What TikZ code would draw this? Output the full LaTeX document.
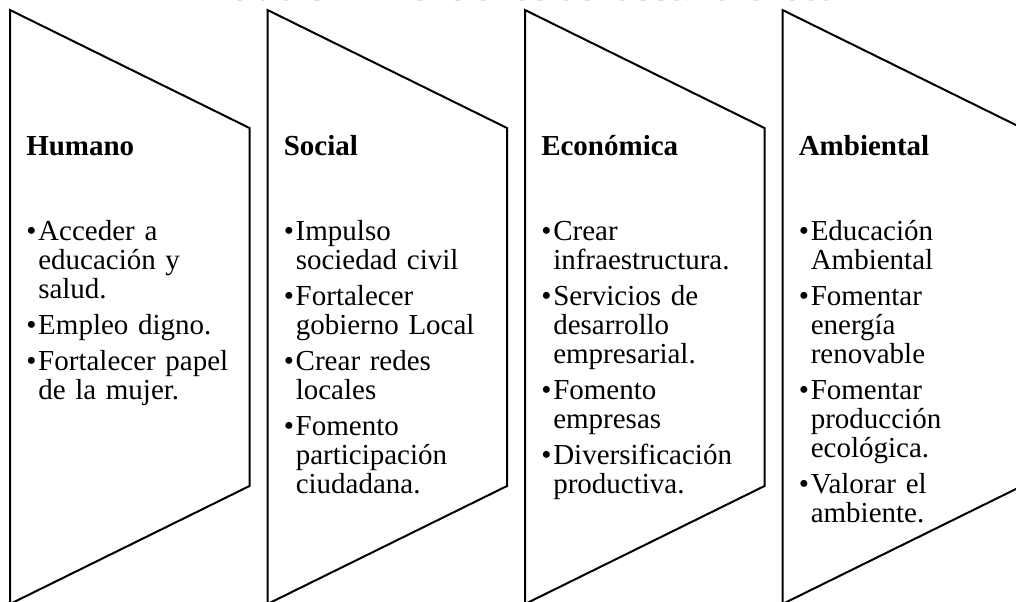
\documentclass[tikz,border=0pt]{standalone}
\usepackage{fontspec}
\setmainfont{Liberation Serif}
\newfontfamily\rotulofont{Liberation Sans}
\usepackage{tikz}
\usetikzlibrary{positioning}

\begin{document}
\begin{tikzpicture}[x=0.75pt,y=-0.75pt,
						every node/.style = {inner sep=0pt, font=\fontsize{21.75}{21.75}\selectfont},
						forma/.style = {line width=1.5pt, line join=miter},
						cabecera/.style = {anchor=base west, font=\fontsize{21.75}{21.75}\selectfont\bfseries},
						lista/.style = {anchor=base west, text width=168pt, align=left}]

					\def\ancho{239.5}
					\def\caida{118}
					\def\bala{\makebox[9pt][l]{•}}
					\def\sigue{\hspace*{9pt}}

					\useasboundingbox (0,0) rectangle (1016,601);
					\clip (0,0) rectangle (1016,601);

					% titulo recortado arriba
					\node[anchor=base, text=gray, font=\rotulofont\fontsize{25.9}{25.9}\selectfont] (titulo) at (531,0) {Tabla 8. Dimensiones del desarrollo local};

					% las cuatro formas
					\foreach \x in {10,267.5,525,782.5}
						\draw[forma] (\x,10) -- (\x+\ancho,10+\caida) -- (\x+\ancho,486) -- (\x,486+\caida) -- cycle;

					\node[cabecera] (humano) at (26,155) {Humano};
					\node[lista] (lhumano) at (26,240) {\bala Acceder a\\ \sigue educación y\\ \sigue salud.\\[5.25pt]
						\bala Empleo digno.\\[5.25pt]
						\bala Fortalecer papel\\ \sigue de la mujer.};

					\node[cabecera] (social) at (283.5,155) {Social};
					\node[lista] (lsocial) at (283.5,240) {\bala Impulso\\ \sigue sociedad civil\\[5.25pt]
						\bala Fortalecer\\ \sigue gobierno Local\\[5.25pt]
						\bala Crear redes\\ \sigue locales\\[5.25pt]
						\bala Fomento\\ \sigue participación\\ \sigue ciudadana.};

					\node[cabecera] (economica) at (541,155) {Económica};
					\node[lista] (leconomica) at (541,240) {\bala Crear\\ \sigue infraestructura.\\[5.25pt]
						\bala Servicios de\\ \sigue desarrollo\\ \sigue empresarial.\\[5.25pt]
						\bala Fomento\\ \sigue empresas\\[5.25pt]
						\bala Diversificación\\ \sigue productiva.};

					\node[cabecera] (ambiental) at (798.5,155) {Ambiental};
					\node[lista] (lambiental) at (798.5,240) {\bala Educación\\ \sigue Ambiental\\[5.25pt]
						\bala Fomentar\\ \sigue energía\\ \sigue renovable\\[5.25pt]
						\bala Fomentar\\ \sigue producción\\ \sigue ecológica.\\[5.25pt]
						\bala Valorar el\\ \sigue ambiente.};

				\end{tikzpicture}
\end{document}
